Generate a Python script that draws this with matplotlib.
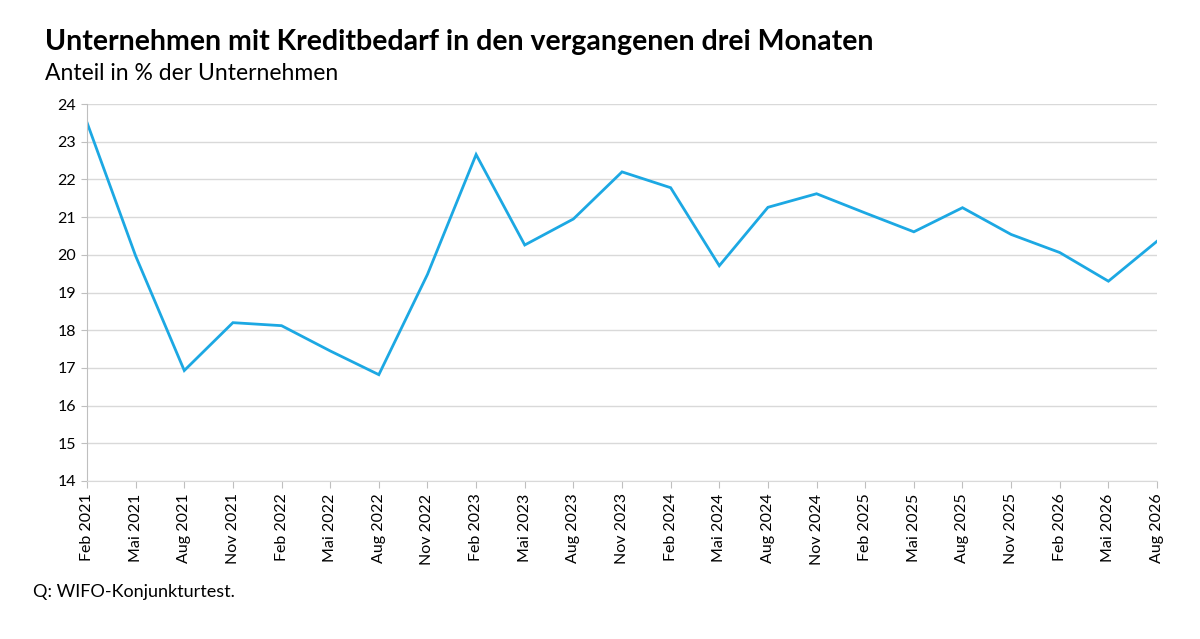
import matplotlib.pyplot as plt

quarters = ["Feb 2021", "Mai 2021", "Aug 2021", "Nov 2021", "Feb 2022", "Mai 2022",
            "Aug 2022", "Nov 2022", "Feb 2023", "Mai 2023", "Aug 2023", "Nov 2023",
            "Feb 2024", "Mai 2024", "Aug 2024", "Nov 2024", "Feb 2025", "Mai 2025",
            "Aug 2025", "Nov 2025", "Feb 2026", "Mai 2026", "Aug 2026"]
share = [23.51, 19.97, 16.93, 18.20, 18.12, 17.45, 16.82, 19.48, 22.66, 20.26,
         20.95, 22.20, 21.78, 19.71, 21.26, 21.62, 21.11, 20.61, 21.25, 20.54,
         20.06, 19.30, 20.36]
y_ticks = list(range(14, 25))

plt.rcParams['font.family'] = ['Lato', 'DejaVu Sans']

fig = plt.figure(figsize=(12, 6.39), dpi=100)
ax = fig.add_axes([0.0725, 0.2473, 0.8917, 0.5899])

x = range(len(quarters))
ax.plot(x, share, color='#1CA8E3', linewidth=2.0, solid_joinstyle='miter')

ax.set_xlim(0, len(quarters) - 1)
ax.set_ylim(14, 24)
ax.set_yticks(y_ticks)
ax.set_xticks(list(x))
ax.set_xticklabels(quarters, rotation=90, fontsize=11.5)
ax.tick_params(axis='y', labelsize=11.5, length=4, color='#BFBFBF', pad=4)
ax.tick_params(axis='x', length=5, color='#BFBFBF', pad=4)
ax.grid(axis='y', color='#D9D9D9', linewidth=1)
ax.set_axisbelow(True)
for side in ['top', 'right']:
    ax.spines[side].set_visible(False)
ax.spines['left'].set_color('#BFBFBF')
ax.spines['bottom'].set_color('#D9D9D9')

fig.text(0.0375, 0.935, "Unternehmen mit Kreditbedarf in den vergangenen drei Monaten",
         fontsize=20.5, fontweight='bold', va='center')
fig.text(0.0375, 0.885, "Anteil in % der Unternehmen", fontsize=16.5, va='center')
fig.text(0.0275, 0.074, "Q: WIFO-Konjunkturtest.", fontsize=13, va='center')

fig.savefig("out.png", dpi=100)
